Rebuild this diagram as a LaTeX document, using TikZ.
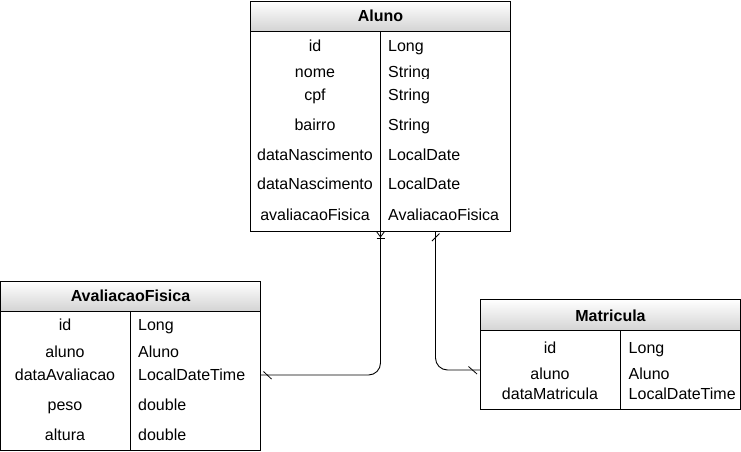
\documentclass[tikz,border=0pt]{standalone}
\usepackage{fontspec}
\setmainfont{Liberation Sans}
\usetikzlibrary{calc}
\begin{document}
\begin{tikzpicture}[x=1pt,y=-1pt,
  tbl/.style={draw=black, line width=1pt, inner sep=0pt, outer sep=0pt, anchor=north west, fill=white},
  hdr/.style={draw=black, line width=1pt, inner sep=0pt, outer sep=0pt, anchor=north west, top color=white, bottom color=black!17},
  htxt/.style={anchor=base, inner sep=0pt, font=\fontsize{16}{19}\selectfont\bfseries},
  ctxt/.style={anchor=base, inner sep=0pt, font=\fontsize{16}{19}\selectfont},
  ltxt/.style={anchor=base west, inner sep=0pt, font=\fontsize{16}{19}\selectfont},
  divl/.style={line width=1pt},
  conn/.style={line width=0.9pt, rounded corners=12pt},
  ermark/.style={line width=0.8pt}
]
\useasboundingbox (0,0) rectangle (741,451);

% ---------- Aluno ----------
\node[tbl, minimum width=260pt, minimum height=230pt] (aluno) at (250.5,1) {};
\node[hdr, minimum width=260pt, minimum height=30pt] (alunoH) at (aluno.north west) {};
\node[htxt] (alunoT) at (380.5,21.7) {Aluno};
\draw[divl] ($(aluno.south west)+(130,0)$) -- ($(alunoH.south west)+(130,0)$);
\node[ctxt] (a1) at (315,51) {id};
\node[ltxt] (a1t) at (388,51) {Long};
\node[ctxt] (a2) at (315,77) {nome};
\begin{scope}
\clip (381,60) rectangle (509,78.6);
\node[ltxt] (a2t) at (388,77) {String};
\end{scope}
\node[ctxt] (a3) at (315,100) {cpf};
\node[ltxt] (a3t) at (388,100) {String};
\node[ctxt] (a4) at (315,130) {bairro};
\node[ltxt] (a4t) at (388,130) {String};
\node[ctxt] (a5) at (315,160) {dataNascimento};
\node[ltxt] (a5t) at (388,160) {LocalDate};
\node[ctxt] (a6) at (315,189.5) {dataNascimento};
\node[ltxt] (a6t) at (388,189.5) {LocalDate};
\node[ctxt] (a7) at (315,220) {avaliacaoFisica};
\node[ltxt] (a7t) at (388,220) {AvaliacaoFisica};

% ---------- AvaliacaoFisica ----------
\node[tbl, minimum width=260pt, minimum height=169pt] (avf) at (0.5,281) {};
\node[hdr, minimum width=260pt, minimum height=30pt] (avfH) at (avf.north west) {};
\node[htxt] (avfT) at (130.5,301.7) {AvaliacaoFisica};
\draw[divl] ($(avf.south west)+(130,0)$) -- ($(avfH.south west)+(130,0)$);
\node[ctxt] (v1) at (65,330.7) {id};
\node[ltxt] (v1t) at (138,330.7) {Long};
\node[ctxt] (v2) at (65,357.3) {aluno};
\node[ltxt] (v2t) at (138,357.3) {Aluno};
\node[ctxt] (v3) at (65,380) {dataAvaliacao};
\node[ltxt] (v3t) at (138,380) {LocalDateTime};
\node[ctxt] (v4) at (65,410) {peso};
\node[ltxt] (v4t) at (138,410) {double};
\node[ctxt] (v5) at (65,440) {altura};
\node[ltxt] (v5t) at (138,440) {double};

% ---------- Matricula ----------
\node[tbl, minimum width=260pt, minimum height=110pt] (mat) at (480.5,299.5) {};
\node[hdr, minimum width=260pt, minimum height=31pt] (matH) at (mat.north west) {};
\node[htxt] (matT) at (610.5,321.3) {Matricula};
\draw[divl] ($(mat.south west)+(140,0)$) -- ($(matH.south west)+(140,0)$);
\node[ctxt] (m1) at (550,353) {id};
\node[ltxt] (m1t) at (628.5,353) {Long};
\node[ctxt] (m2) at (550,379) {aluno};
\node[ltxt] (m2t) at (628.5,379) {Aluno};
\node[ctxt] (m3) at (550,399.7) {dataMatricula};
\node[ltxt] (m3t) at (628.5,399.7) {LocalDateTime};

% ---------- connectors ----------
\coordinate (c1) at ($(aluno.south west)+(130,0)$);
\coordinate (e1) at ($(avf.north east)+(0,94)$);
\draw[conn] (c1) |- (e1);
\coordinate (c2) at ($(aluno.south west)+(185,0)$);
\coordinate (e2) at ($(mat.north west)+(0,70.5)$);
\draw[conn] (c2) |- (e2);

% markers
\draw[ermark] ($(c1)+(-4,0.5)$) -- ($(c1)+(0,6)$) -- ($(c1)+(4,0.5)$);
\draw[ermark] ($(c1)+(-4,7.5)$) -- ($(c1)+(4,7.5)$);
\draw[ermark] ($(e1)+(3,-3.5)$) -- ($(e1)+(11,4)$);
\draw[ermark] ($(c2)+(-3.5,10)$) -- ($(c2)+(4,2.5)$);
\draw[ermark] ($(e2)+(-12,-3.5)$) -- ($(e2)+(-3.5,4)$);
\end{tikzpicture}
\end{document}
